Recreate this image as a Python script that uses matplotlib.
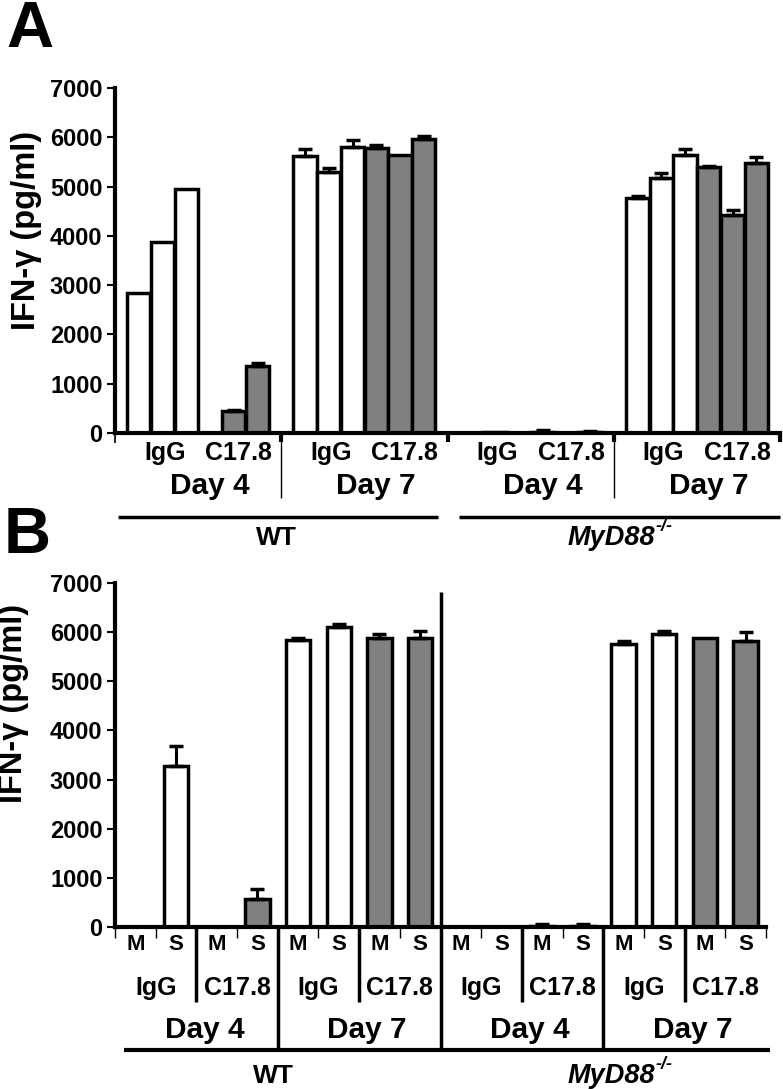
import matplotlib
matplotlib.use("Agg")
import matplotlib.pyplot as plt
from matplotlib.transforms import blended_transform_factory

plt.rcParams['font.family'] = ['Liberation Sans', 'DejaVu Sans']
plt.rcParams['font.weight'] = 'bold'

# ---- data, panel A: groups WT d4, WT d7, MyD88 d4, MyD88 d7; 3 IgG + 3 C17.8 each
a_vals = [2850, 3880, 4950, 0, 440, 1360,
          5620, 5290, 5810, 5790, 5650, 5975,
          10, 15, 10, 30, 5, 15,
          4760, 5180, 5650, 5395, 4420, 5470]
a_err = [0, 0, 0, 0, 30, 60,
         150, 90, 130, 50, 0, 50,
         0, 0, 0, 30, 0, 20,
         40, 90, 115, 30, 100, 130]
a_treat = (['IgG'] * 3 + ['C17.8'] * 3) * 4

# ---- data, panel B: M / S for IgG and C17.8, day 4 / day 7, WT / MyD88
b_labels = ['M', 'S'] * 8
b_treat = (['IgG'] * 2 + ['C17.8'] * 2) * 4
b_vals = [0, 3280, 0, 570, 5830, 6100, 5890, 5890,
          0, 0, 20, 20, 5760, 5970, 5875, 5825]
b_err = [0, 400, 0, 210, 60, 70, 70, 140,
         0, 0, 50, 50, 55, 50, 0, 170]

days = ['Day 4', 'Day 7', 'Day 4', 'Day 7']
yticks = [0, 1000, 2000, 3000, 4000, 5000, 6000, 7000]
colors = {'IgG': 'white', 'C17.8': '#808080'}

W, H = 783, 1089
fig = plt.figure(figsize=(W / 100, H / 100), dpi=100)


def fy(py):
    return 1 - py / H


def setup(ax):
    ax.set_ylim(0, 7000)
    ax.set_yticks(yticks)
    ax.set_xticks([])
    for s in ['top', 'right']:
        ax.spines[s].set_visible(False)
    ax.spines['left'].set_linewidth(3)
    ax.spines['bottom'].set_linewidth(3)
    ax.tick_params(axis='y', direction='out', length=6, width=1.5,
                   labelsize=17, pad=3)


def add_errors(ax, xs, vals, errs):
    x2 = [x for x, e in zip(xs, errs) if e > 0]
    v2 = [v for v, e in zip(vals, errs) if e > 0]
    e2 = [e for e in errs if e > 0]
    ax.errorbar(x2, v2, yerr=[[0] * len(e2), e2], fmt='none', ecolor='black',
                elinewidth=2.2, capsize=5, capthick=2.5, zorder=3)


def vline(tr, x, y0, y1, lw):
    plt.plot([x, x], [fy(y0), fy(y1)], transform=tr, color='black', lw=lw,
             clip_on=False, solid_capstyle='butt')


def hline(tr, x0, x1, y, lw):
    plt.plot([x0, x1], [fy(y), fy(y)], transform=tr, color='black', lw=lw,
             clip_on=False, solid_capstyle='butt')


# ================= panel A =================
axA = fig.add_axes([115 / W, fy(433), (780 - 115) / W, (433 - 88) / H])
setup(axA)
axA.set_xlim(0, 28)
xa = [7 * (i // 6) + 1 + (i % 6) for i in range(len(a_vals))]
axA.bar(xa, a_vals, width=0.97, color=[colors[t] for t in a_treat],
        edgecolor='black', linewidth=2.5, zorder=2)
add_errors(axA, xa, a_vals, a_err)

trA = blended_transform_factory(axA.transData, fig.transFigure)
vline(trA, 0, 433, 443, 1.2)
for x in [7, 21]:
    vline(trA, x, 433, 442, 3)
    vline(trA, x, 433, 498, 1)
for x in [14, 28]:
    vline(trA, x, 433, 442, 3)
hline(trA, 0.13, 13.6, 517, 2.5)
hline(trA, 14.47, 28, 517, 2.5)

for g in range(4):
    axA.text(7 * g + 2.1, fy(453), 'IgG', transform=trA, ha='center',
             va='center', fontsize=18)
    axA.text(7 * g + 5.2, fy(453), 'C17.8', transform=trA, ha='center',
             va='center', fontsize=18)
    axA.text(7 * g + 4.0, fy(486), days[g], transform=trA, ha='center',
             va='center', fontsize=21.5)
axA.text(6.8, fy(538), 'WT', transform=trA, ha='center', va='center',
         fontsize=19)
tA = axA.text(20.9, fy(538), 'MyD88', transform=trA, ha='center',
              va='center', fontsize=19.5, style='italic')
axA.annotate('-/-', xy=(1.0, 0.95), xycoords=tA, ha='left', va='center',
             fontsize=13, style='italic')

# ================= panel B =================
axB = fig.add_axes([115 / W, fy(927), (766 - 115) / W, (927 - 583) / H])
setup(axB)
axB.set_xlim(0, 16)
xb = [i + 0.5 for i in range(len(b_vals))]
axB.bar(xb, b_vals, width=0.6, color=[colors[t] for t in b_treat],
        edgecolor='black', linewidth=2.5, zorder=2)
add_errors(axB, xb, b_vals, b_err)

trB = blended_transform_factory(axB.transData, fig.transFigure)
for x in range(0, 17):
    if x in (2, 6, 10, 14):
        vline(trB, x, 927, 1002, 2.5)
    elif x in (4, 12):
        vline(trB, x, 927, 1050, 2.5)
    elif x == 8:
        vline(trB, x, 592, 1050, 2.5)
    else:
        vline(trB, x, 927, 938, 1)
hline(trB, 0.22, 16.1, 1050, 3)

for i, lab in enumerate(b_labels):
    axB.text(i + 0.5, fy(944), lab, transform=trB, ha='center', va='center',
             fontsize=16)
for k in range(8):
    axB.text(2 * k + 1, fy(988), b_treat[2 * k], transform=trB, ha='center',
             va='center', fontsize=18)
for g in range(4):
    axB.text(4 * g + 2.2, fy(1030), days[g], transform=trB, ha='center',
             va='center', fontsize=21.5)
axB.text(3.9, fy(1076), 'WT', transform=trB, ha='center', va='center',
         fontsize=19)
tB = axB.text(12.2, fy(1076), 'MyD88', transform=trB, ha='center',
              va='center', fontsize=19.5, style='italic')
axB.annotate('-/-', xy=(1.0, 0.95), xycoords=tB, ha='left', va='center',
             fontsize=13, style='italic')

# y labels and panel letters
fig.text(27 / W, fy(230), 'IFN-\u03b3 (pg/ml)', rotation=90, ha='center',
         va='center', fontsize=23.5)
fig.text(14 / W, fy(703), 'IFN-\u03b3 (pg/ml)', rotation=90, ha='center',
         va='center', fontsize=23.5)
fig.text(6 / W, fy(47), 'A', fontsize=47, va='baseline')
fig.text(4 / W, fy(553), 'B', fontsize=47, va='baseline')

fig.savefig('out.png', dpi=100)
